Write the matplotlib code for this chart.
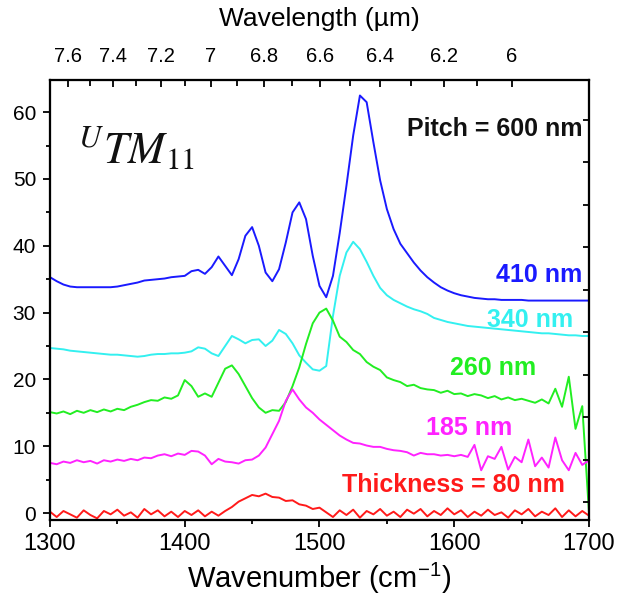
import matplotlib
matplotlib.use("Agg")
import matplotlib.pyplot as plt
import numpy as np
from matplotlib.ticker import MultipleLocator, FixedLocator, NullFormatter

plt.rcParams["font.family"] = ["Liberation Sans", "DejaVu Sans"]
plt.rcParams["mathtext.fontset"] = "stix"

# wavenumber grid (cm^-1), 5 cm^-1 steps
wavenumber = np.arange(1300, 1701, 5)

t410 = [35.3, 34.7, 34.2, 33.9, 33.8, 33.8, 33.8, 33.8, 33.8, 33.8,
        33.9, 34.1, 34.3, 34.5, 34.8, 34.9, 35.0, 35.1, 35.3, 35.4,
        35.5, 36.2, 36.4, 35.8, 36.8, 38.4, 37.0, 35.6, 38.0, 41.5,
        42.8, 40.0, 36.0, 34.7, 36.5, 40.5, 45.0, 46.5, 44.0, 38.5,
        34.0, 32.3, 35.5, 41.9, 49.0, 56.5, 62.5, 61.5, 55.5, 49.8,
        45.5, 42.5, 40.3, 38.9, 37.5, 36.3, 35.3, 34.5, 33.8, 33.3,
        32.9, 32.6, 32.4, 32.2, 32.1, 32.0, 32.0, 31.9, 31.9, 31.9,
        31.9, 31.8, 31.8, 31.8, 31.8, 31.8, 31.8, 31.8, 31.8, 31.8, 31.8]

t340 = [24.7, 24.6, 24.5, 24.3, 24.2, 24.1, 24.0, 23.9, 23.8, 23.7,
        23.7, 23.6, 23.5, 23.4, 23.5, 23.7, 23.8, 23.8, 23.9, 23.9,
        24.0, 24.2, 24.8, 24.6, 23.9, 23.5, 25.0, 26.5, 26.0, 25.4,
        25.9, 26.0, 25.0, 25.8, 27.4, 26.8, 25.4, 23.6, 22.5, 21.5,
        21.3, 22.0, 29.5, 35.5, 39.0, 40.6, 39.5, 37.6, 35.5, 33.7,
        32.6, 31.9, 31.4, 30.9, 30.5, 30.2, 29.8, 29.2, 28.9, 28.6,
        28.4, 28.2, 28.0, 27.9, 27.8, 27.7, 27.6, 27.5, 27.4, 27.3,
        27.2, 27.1, 27.0, 26.9, 26.9, 26.8, 26.7, 26.6, 26.6, 26.5, 26.5]

t260 = [15.1, 14.9, 15.2, 14.8, 15.3, 15.0, 15.4, 15.1, 15.5, 15.2,
        15.6, 15.4, 15.9, 16.2, 16.6, 16.9, 16.8, 17.3, 17.1, 17.6,
        19.9, 19.0, 17.4, 17.9, 17.4, 19.5, 21.6, 22.1, 20.8, 19.0,
        17.2, 15.8, 15.0, 15.4, 15.3, 16.6, 19.0, 21.8, 25.3, 28.4,
        30.0, 30.6, 28.8, 26.4, 25.6, 24.4, 23.8, 22.6, 21.9, 21.4,
        20.3, 19.9, 19.6, 19.0, 19.2, 18.7, 18.5, 18.4, 18.0, 18.3,
        17.8, 17.9, 17.5, 17.8, 17.6, 17.2, 17.5, 17.0, 17.3, 16.9,
        17.1, 16.8, 16.5, 17.0, 16.4, 18.6, 15.9, 20.4, 12.6, 16.0, 0.0]

t185 = [7.5, 7.3, 7.7, 7.5, 7.9, 7.6, 7.8, 7.4, 7.9, 7.7,
        8.0, 7.8, 8.1, 7.9, 8.3, 8.2, 8.6, 8.8, 8.5, 8.9,
        8.7, 9.3, 9.2, 8.6, 7.3, 8.1, 7.7, 7.6, 7.4, 7.9,
        8.0, 8.6, 9.8, 11.8, 13.8, 16.8, 18.5, 17.0, 15.8, 15.0,
        14.0, 13.2, 12.4, 11.6, 11.0, 10.5, 10.4, 10.1, 9.9, 9.9,
        9.6, 9.4, 9.3, 9.1, 8.6, 9.0, 8.8, 8.8, 8.6, 8.7,
        8.5, 8.7, 8.4, 10.2, 6.4, 8.5, 8.1, 9.9, 6.5, 8.4,
        7.6, 11.0, 7.0, 8.3, 6.8, 11.3, 7.9, 6.4, 9.0, 7.2, 7.9]

t80 = [0.2, -0.6, 0.3, -0.2, -0.7, 0.4, -0.3, -0.8, 0.3, -0.2,
       0.5, -0.4, 0.1, -0.7, 0.6, -0.2, 0.4, -0.5, 0.2, -0.6,
       0.3, -0.3, 0.4, -0.5, 0.2, -0.4, 0.3, 0.9, 1.7, 2.2,
       2.7, 2.5, 2.9, 2.4, 2.3, 1.8, 1.9, 1.3, 1.1, 0.6,
       0.8, 0.1, -0.6, 0.4, -0.3, 0.5, -0.7, 0.3, -0.2, 0.6,
       -0.4, 0.2, -0.6, 0.5, -0.1, 0.6, -0.5, 0.3, -0.3, 0.7,
       -0.2, 0.4, -0.6, 0.2, -0.4, 0.5, -0.3, 0.1, -0.7, 0.4,
       -0.2, 0.6, -0.5, 0.2, -0.3, 0.7, -0.6, 0.4, -0.5, 0.3, -0.4]

series = [t410, t340, t260, t185, t80]
colors = ["#1a1aff", "#33f0f0", "#22ee22", "#ff22ff", "#ff1a1a"]
labels = ["410 nm", "340 nm", "260 nm", "185 nm", "Thickness = 80 nm"]
label_x = [1695, 1688, 1661, 1643, 1682]
label_y = [35.6, 28.9, 21.7, 12.7, 4.2]

wl_major = [7.6, 7.4, 7.2, 7.0, 6.8, 6.6, 6.4, 6.2, 6.0]
wl_minor = [7.5, 7.3, 7.1, 6.9, 6.7, 6.5, 6.3, 6.1]

fig = plt.figure(figsize=(6.2, 5.98), dpi=100)
ax = fig.add_axes([0.0806, 0.1304, 0.8694, 0.7356])

for y, c in zip(series, colors):
    ax.plot(wavenumber, y, color=c, lw=1.4)

for lab, c, lx, ly in zip(labels, colors, label_x, label_y):
    ax.text(lx, ly, lab, color=c, fontsize=18, fontweight="bold",
            ha="right", va="center")

ax.text(1695, 57.5, "Pitch = 600 nm", fontsize=18, fontweight="bold",
        ha="right", va="center", color="#111111")
ax.text(1321, 52.4, r"$^{U}TM_{11}$", fontsize=32, ha="left",
        va="baseline", color="#111111")

ax.set_xlim(1300, 1700)
ax.set_ylim(-1.05, 64.8)
ax.xaxis.set_major_locator(MultipleLocator(100))
ax.xaxis.set_minor_locator(MultipleLocator(50))
ax.yaxis.set_major_locator(MultipleLocator(10))
ax.yaxis.set_minor_locator(MultipleLocator(5))
ax.tick_params(which="both", direction="out", width=1.3, top=False, right=False)
ax.tick_params(which="major", length=5)
ax.tick_params(which="minor", length=3)
ax.tick_params(axis="x", labelsize=17, pad=4)
ax.tick_params(axis="y", labelsize=15, pad=5)
ax.set_xlabel(r"Wavenumber (cm$^{\mathregular{-1}}$)", fontsize=21, labelpad=5)
for s in ax.spines.values():
    s.set_linewidth(1.5)

# top axis: wavelength in micrometres
top = ax.twiny()
top.set_xlim(1301.4, 1727.9)
top.xaxis.set_major_locator(FixedLocator([1e4 / w for w in wl_major]))
top.xaxis.set_minor_locator(FixedLocator([1e4 / w for w in wl_minor]))
top.set_xticklabels(["%g" % w for w in wl_major])
top.tick_params(which="both", direction="in", width=1.3, labelsize=14.5, pad=10)
top.tick_params(which="major", length=5)
top.tick_params(which="minor", length=4)
top.set_xlabel("Wavelength (\u00b5m)", fontsize=19, labelpad=15)

# right axis: ticks only
rt = ax.twinx()
rt.set_ylim(-0.417, 9.937)
rt.yaxis.set_major_locator(MultipleLocator(1))
rt.yaxis.set_major_formatter(NullFormatter())
rt.tick_params(direction="in", length=4, width=1.3)
for a in (top, rt):
    for s in a.spines.values():
        s.set_linewidth(1.5)

fig.savefig("out.png", dpi=100)
